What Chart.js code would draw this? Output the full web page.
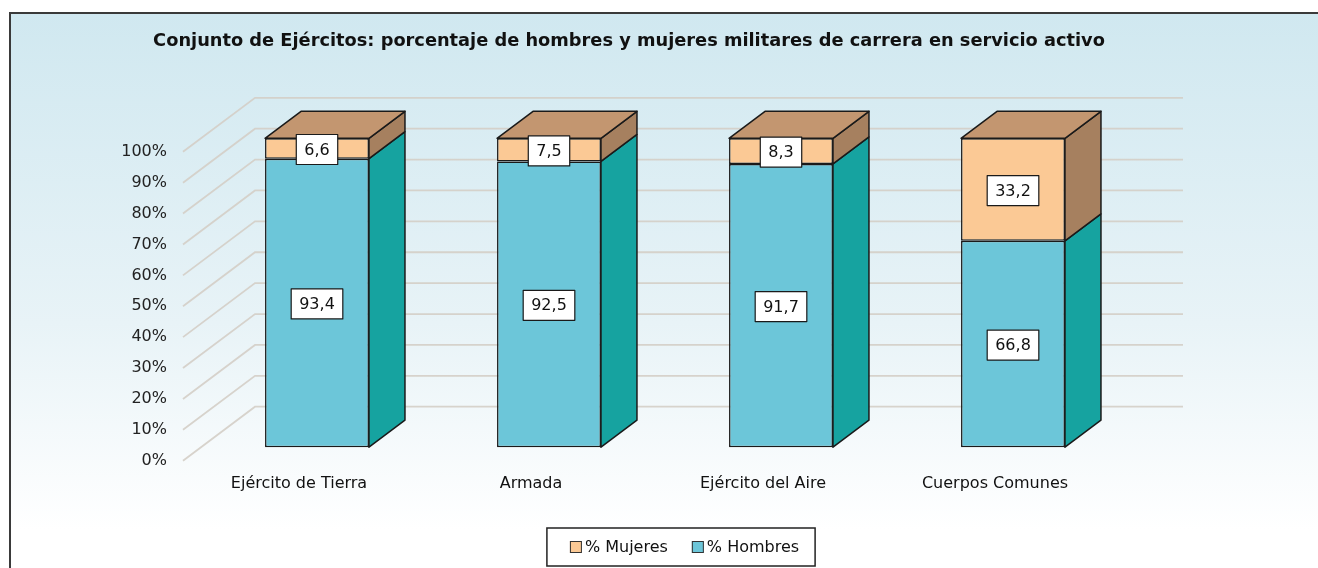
<!DOCTYPE html>
<html>
<head>
<meta charset="utf-8">
<script src="https://cdn.jsdelivr.net/npm/chart.js@4.4.1/dist/chart.umd.min.js"></script>
<style>
    html, body { margin: 0; padding: 0; background: #fff; }
    canvas { display: block; }
</style>
</head>
<body>
<canvas id="chart" width="1318" height="568"></canvas>
<script>
const TITLE      = 'Conjunto de Ejércitos: porcentaje de hombres y mujeres militares de carrera en servicio activo';
const categories = ['Ejército de Tierra', 'Armada', 'Ejército del Aire', 'Cuerpos Comunes'];
const hombres    = [93.4, 92.5, 91.7, 66.8];
const mujeres    = [6.6, 7.5, 8.3, 33.2];

const FONT     = "'DejaVu Sans', Arial, sans-serif";
const DEPTH_X  = 72;   // wall depth, bars sit in the middle half
const DEPTH_Y  = -54;
const EDGE     = '#1a1a1a';

const FRONT = ['#6cc6d9', '#fbc995'];
const SIDE  = ['#16a3a0', '#a6805f'];
const TOP   = '#c39670';

const fmt = v => v.toFixed(1).replace('.', ',');

function poly(ctx, pts, fill) {
    ctx.beginPath();
    ctx.moveTo(pts[0][0], pts[0][1]);
    for (let i = 1; i < pts.length; i++) ctx.lineTo(pts[i][0], pts[i][1]);
    ctx.closePath();
    ctx.fillStyle = fill;
    ctx.fill();
    ctx.stroke();
}

const bar3d = {
    id: 'bar3d',
    beforeDraw(chart) {
        const ctx = chart.ctx;
        ctx.save();
        ctx.fillStyle = '#fff';
        ctx.fillRect(0, 0, chart.width, chart.height);
        const g = ctx.createLinearGradient(0, 13, 0, 530);
        g.addColorStop(0, '#d0e8f0');
        g.addColorStop(0.6, '#e8f3f7');
        g.addColorStop(1, '#ffffff');
        ctx.fillStyle = g;
        ctx.fillRect(10, 13, chart.width, chart.height);
        ctx.strokeStyle = '#3a3a3a';
        ctx.lineWidth = 2;
        ctx.beginPath();
        ctx.moveTo(10, chart.height + 5);
        ctx.lineTo(10, 13);
        ctx.lineTo(chart.width + 5, 13);
        ctx.stroke();

        ctx.fillStyle = '#111';
        ctx.font = 'bold 17.8px ' + FONT;
        ctx.textAlign = 'center';
        ctx.textBaseline = 'middle';
        ctx.fillText(TITLE, 629, 41);
        ctx.restore();
    },
    beforeDatasetsDraw(chart) {
        const ctx = chart.ctx;
        const ys = chart.scales.y;
        const { left, right } = chart.chartArea;
        ctx.save();
        ctx.strokeStyle = 'rgba(212,206,198,0.9)';
        ctx.lineWidth = 1.8;
        ys.ticks.forEach(t => {
            const y = ys.getPixelForValue(t.value);
            ctx.beginPath();
            ctx.moveTo(left, y);
            ctx.lineTo(left + DEPTH_X, y + DEPTH_Y);
            ctx.lineTo(right + DEPTH_X, y + DEPTH_Y);
            ctx.stroke();
        });
        ctx.restore();
        // bars stand a quarter of the way into the box
        ctx.save();
        ctx.translate(DEPTH_X / 4, DEPTH_Y / 4);
    },
    afterDatasetsDraw(chart) {
        const ctx = chart.ctx;
        const dx = DEPTH_X / 2, dy = DEPTH_Y / 2;
        const nSets = chart.data.datasets.length;
        ctx.strokeStyle = EDGE;
        ctx.lineWidth = 1.5;
        ctx.lineJoin = 'round';
        chart.data.labels.forEach((_, i) => {
            for (let d = 0; d < nSets; d++) {
                const el = chart.getDatasetMeta(d).data[i];
                const { x, y, base, width } = el.getProps(['x', 'y', 'base', 'width'], true);
                const l = x - width / 2, r = x + width / 2;
                const top = Math.min(y, base), bot = Math.max(y, base);
                poly(ctx, [[r, top], [r + dx, top + dy], [r + dx, bot + dy], [r, bot]], SIDE[d]);
                if (d === nSets - 1) {
                    poly(ctx, [[l, top], [l + dx, top + dy], [r + dx, top + dy], [r, top]], TOP);
                }
            }
        });

        // value boxes
        ctx.font = '16px ' + FONT;
        ctx.textAlign = 'center';
        ctx.textBaseline = 'middle';
        chart.data.datasets.forEach((ds, d) => {
            chart.getDatasetMeta(d).data.forEach((el, i) => {
                const { x, y, base } = el.getProps(['x', 'y', 'base'], true);
                const cy = (y + base) / 2 + 1;
                const txt = fmt(ds.data[i]);
                const w = ctx.measureText(txt).width + 16;
                const h = 30;
                ctx.fillStyle = '#fff';
                ctx.fillRect(x - w / 2, cy - h / 2, w, h);
                ctx.lineWidth = 1.2;
                ctx.strokeStyle = EDGE;
                ctx.strokeRect(x - w / 2, cy - h / 2, w, h);
                ctx.fillStyle = '#111';
                ctx.fillText(txt, x, cy + 1);
            });
        });
        ctx.restore();
    },
    afterDraw(chart) {
        const ctx = chart.ctx;
        const items = chart.data.datasets.map((ds, d) => ({ label: ds.label, color: ds.backgroundColor })).reverse();
        ctx.save();
        ctx.font = '16px ' + FONT;
        const sq = 12, gap = 3, between = 24, padL = 23, padR = 16;
        let total = padL + padR;
        items.forEach((it, k) => {
            it.w = ctx.measureText(it.label).width;
            total += sq + gap + it.w + (k ? between : 0);
        });
        const cx = (chart.chartArea.left + chart.chartArea.right) / 2 + DEPTH_X / 2 - 2;
        const bx = cx - total / 2, by = 528, bh = 38;
        ctx.fillStyle = '#fff';
        ctx.fillRect(bx, by, total, bh);
        ctx.strokeStyle = '#222';
        ctx.lineWidth = 1.5;
        ctx.strokeRect(bx, by, total, bh);
        let xx = bx + padL;
        const my = by + bh / 2;
        ctx.textBaseline = 'middle';
        ctx.textAlign = 'left';
        items.forEach(it => {
            ctx.fillStyle = it.color;
            ctx.fillRect(xx, my - sq / 2, sq, sq);
            ctx.lineWidth = 1;
            ctx.strokeStyle = '#333';
            ctx.strokeRect(xx + 0.5, my - sq / 2 + 0.5, sq - 1, sq - 1);
            ctx.fillStyle = '#111';
            ctx.fillText(it.label, xx + sq + gap, my + 1);
            xx += sq + gap + it.w + between;
        });
        ctx.restore();
    }
};

new Chart(document.getElementById('chart'), {
    type: 'bar',
    data: {
        labels: categories,
        datasets: [
            {
                label: '% Hombres',
                data: hombres,
                backgroundColor: FRONT[0]
            },
            {
                label: '% Mujeres',
                data: mujeres,
                backgroundColor: FRONT[1]
            }
        ]
    },
    options: {
        responsive: false,
        animation: false,
        devicePixelRatio: 1,
        layout: { padding: { left: 0, right: 207, top: 151.8, bottom: 0 } },
        datasets: {
            bar: {
                borderColor: EDGE,
                borderWidth: 1.5,
                borderSkipped: false,
                categoryPercentage: 1,
                barPercentage: 0.448,
                clip: false
            }
        },
        plugins: {
            legend: { display: false },
            title: { display: false },
            tooltip: { enabled: false }
        },
        scales: {
            x: {
                stacked: true,
                grid: { display: false },
                border: { display: false },
                ticks: { font: { family: FONT, size: 16 }, color: '#111', padding: 6, maxRotation: 0 },
                afterFit: s => { s.height = 107.3; }
            },
            y: {
                stacked: true,
                min: 0,
                max: 100,
                grid: { display: false },
                border: { display: false },
                ticks: {
                    stepSize: 10,
                    font: { family: FONT, size: 16 },
                    color: '#222',
                    padding: 8,
                    callback: v => v + '%'
                },
                afterFit: s => { s.width = 183; }
            }
        }
    },
    plugins: [bar3d]
});
</script>
</body>
</html>
